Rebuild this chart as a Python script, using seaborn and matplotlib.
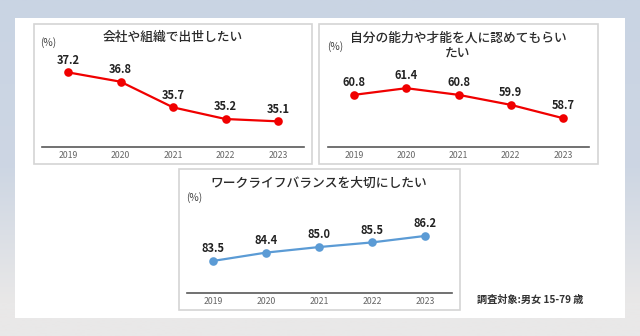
import numpy as np
import matplotlib
matplotlib.use("Agg")
import matplotlib.pyplot as plt
from matplotlib.patches import Rectangle
from matplotlib.colors import LinearSegmentedColormap
import seaborn as sns

sns.set_theme(style="white")
plt.rcParams["font.family"] = ["Noto Sans CJK JP", "DejaVu Sans"]

# Survey values by year
years = ["2019", "2020", "2021", "2022", "2023"]
promotion = [37.2, 36.8, 35.7, 35.2, 35.1]
recognition = [60.8, 61.4, 60.8, 59.9, 58.7]
work_life = [83.5, 84.4, 85.0, 85.5, 86.2]

title_promotion = "会社や組織で出世したい"
title_recognition = "自分の能力や才能を人に認めてもらい\nたい"
title_work_life = "ワークライフバランスを大切にしたい"
note = "調査対象:男女 15-79 歳"

RED = "#f00000"
BLUE = "#5b9bd5"

W, H = 640, 336
fig = plt.figure(figsize=(W / 100, H / 100), dpi=100)

# Background layer in pixel coordinates
bg = fig.add_axes([0, 0, 1, 1], zorder=-10)
bg.set_xlim(0, W)
bg.set_ylim(H, 0)
bg.axis("off")
grad_cmap = LinearSegmentedColormap.from_list(
    "bg", [(0.0, "#c9d4e3"), (0.50, "#cdd6e3"), (0.90, "#e9e8e8"), (1.0, "#e9e8e8")]
)
grad = np.linspace(0, 1, 256).reshape(-1, 1)
bg.imshow(grad, cmap=grad_cmap, extent=[0, W, H, 0], aspect="auto", zorder=0)
bg.add_patch(Rectangle((15, 18), 610, 300, facecolor="white", edgecolor="none", zorder=1))

boxes = [(34, 24, 312, 164), (319, 24, 598, 164), (179, 169, 460, 310)]
for x0, y0, x1, y1 in boxes:
    bg.add_patch(Rectangle((x0, y0), x1 - x0, y1 - y0, facecolor="white",
                           edgecolor="#d4d4d4", linewidth=1.2, zorder=2))


def px_axes(left, top, right, bottom):
    return fig.add_axes([left / W, 1 - bottom / H, (right - left) / W, (bottom - top) / H])


def draw_panel(rect, values, color, ylim, title, title_xy, pct_xy):
    ax = px_axes(*rect)
    ax.set_facecolor("none")
    x = list(range(len(years)))
    sns.lineplot(x=x, y=values, ax=ax, color=color, linewidth=1.6, marker="o",
                 markersize=6.2, markeredgewidth=0, markerfacecolor=color)
    ax.set_xlim(-0.5, len(years) - 0.5)
    ax.set_ylim(*ylim)
    ax.set_xticks(x)
    ax.set_xticklabels(years, fontsize=6.3, color="#666666")
    ax.set_yticks([])
    ax.tick_params(axis="x", length=0, pad=3)
    for s in ["top", "left", "right"]:
        ax.spines[s].set_visible(False)
    ax.spines["bottom"].set_color("#595959")
    ax.spines["bottom"].set_linewidth(1.2)
    for xi, v in zip(x, values):
        ax.annotate(f"{v:.1f}", (xi, v), xytext=(0, 8.8), textcoords="offset points",
                    ha="center", va="center", fontsize=8, fontweight="bold", color="#222222")
    bg.text(title_xy[0], title_xy[1], title, ha="center", va="center", fontsize=9.2,
            fontweight="medium", color="#2a2a2a", linespacing=1.2, zorder=3)
    bg.text(pct_xy[0], pct_xy[1], "(%)", ha="left", va="center", fontsize=7.3,
            color="#444444", zorder=3)
    return ax


draw_panel((41.75, 60, 304.25, 147), promotion, RED, (34.0, 37.73),
           title_promotion, (173, 38), (40, 43))
draw_panel((328, 60, 589, 147), recognition, RED, (56.1, 63.94),
           title_recognition, (458, 46), (327, 47))
draw_panel((186.5, 205, 451.5, 293), work_life, BLUE, (80.04, 89.54),
           title_work_life, (319, 183), (186, 198))

bg.text(477, 300, note, ha="left", va="center", fontsize=7.3, fontweight="bold",
        color="#333333", zorder=3)

fig.savefig("out.png", dpi=100)
